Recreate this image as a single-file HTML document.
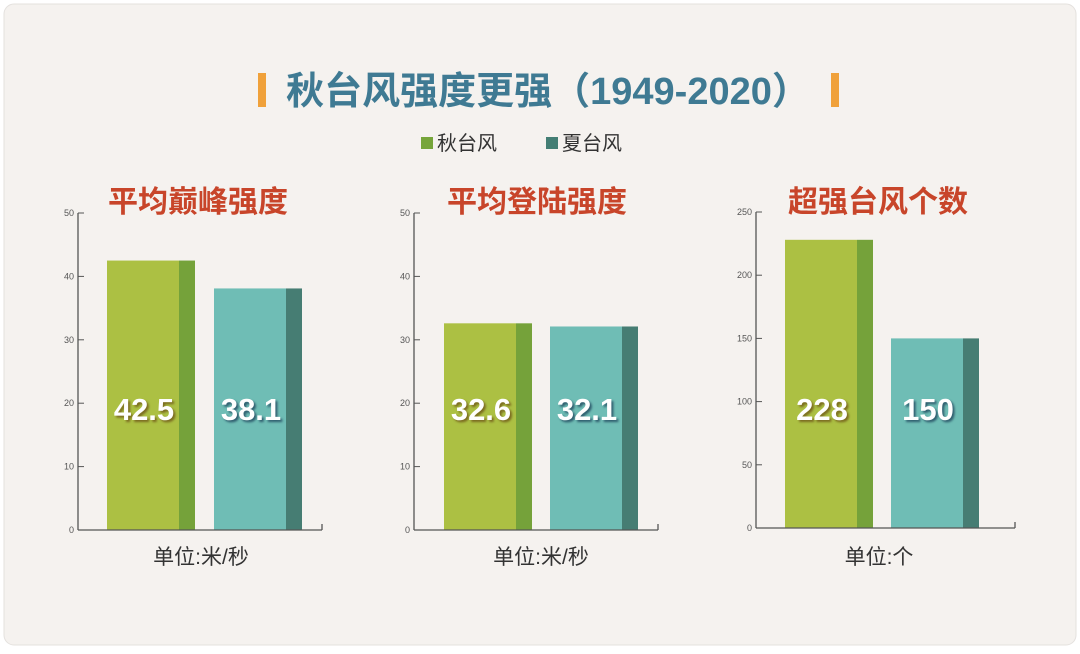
<!DOCTYPE html>
<html><head><meta charset="utf-8">
<style>
html,body{margin:0;padding:0;background:#fff;}
body{width:1080px;height:649px;overflow:hidden;font-family:"Liberation Sans","Noto Sans CJK SC",sans-serif;}
svg text{font-family:"Liberation Sans","Noto Sans CJK SC",sans-serif;}
</style></head>
<body>
<svg id="chart" width="1080" height="649" viewBox="0 0 1080 649">
<rect x="4" y="4" width="1072" height="641" rx="10" fill="#f5f2ef" stroke="#e4e1de"/>
<rect x="258" y="73" width="8" height="34" fill="#f0a13a"/>
<rect x="831" y="73" width="8" height="34" fill="#f0a13a"/>
<text x="548" y="104" text-anchor="middle" font-size="38" font-weight="bold" fill="#3f7a93">秋台风强度更强（1949-2020）</text>
<g>
<rect x="421" y="137" width="12" height="12" fill="#76a53a"/>
<text x="437" y="150" font-size="20" fill="#333">秋台风</text>
<rect x="546" y="137" width="12" height="12" fill="#437e74"/>
<text x="562" y="150" font-size="20" fill="#333">夏台风</text>
</g>
<g id="panels"></g>
</svg>
<script>
const panelTitles = ["平均巅峰强度","平均登陆强度","超强台风个数"];
const panelUnits = ["单位:米/秒","单位:米/秒","单位:个"];
const autumnValues = [42.5, 32.6, 228];
const summerValues = [38.1, 32.1, 150];
const axisMax = [50, 50, 250];
const tickValues = [[0,10,20,30,40,50],[0,10,20,30,40,50],[0,50,100,150,200,250]];

const NS = "http://www.w3.org/2000/svg";
const root = document.getElementById("panels");
function mk(tag, attrs, parent){const e=document.createElementNS(NS,tag);for(const k in attrs)e.setAttribute(k,attrs[k]);parent.appendChild(e);return e;}
const layout = [
  {ax:78, y0:530, ytop:213, xend:322, b1:107, b2:214, cx:198, ux:201},
  {ax:414, y0:530, ytop:213, xend:658, b1:444, b2:550, cx:537, ux:541},
  {ax:756, y0:528, ytop:212, xend:1015, b1:785, b2:891, cx:878, ux:879}
];
for (let i=0;i<3;i++){
  const L = layout[i];
  const g = mk("g",{},root);
  
  
  const yS = v => L.y0 - (v/axisMax[i])*(L.y0-L.ytop);
  const t = mk("text",{x:L.cx,y:212,"text-anchor":"middle","font-size":"30","font-weight":"bold",fill:"#c8452a"},g);
  t.textContent = panelTitles[i];
  
  
  const drawBar = (x,v,front,side,shadow,nm)=>{
    const y = yS(v);
    const r1 = mk("rect",{x:x,y:y,width:72,height:L.y0-y,fill:front},g);
    
    
    const r2 = mk("rect",{x:x+72,y:y,width:16,height:L.y0-y,fill:side},g);
    
    
    const lbl = mk("text",{x:x+37,y:420,"text-anchor":"middle","font-size":"31","font-weight":"bold",fill:"#fff",style:"filter:drop-shadow(2px 2px 1px "+shadow+")"},g);
    lbl.textContent = String(v);
    
    
  };
  drawBar(L.b1, autumnValues[i], "#acc043", "#75a23a", "#7a6a20", "bar-autumn");
  drawBar(L.b2, summerValues[i], "#6fbdb5", "#467d73", "#2f5d6e", "bar-summer");
  const ya = mk("line",{x1:L.ax,y1:L.ytop,x2:L.ax,y2:L.y0,stroke:"#555","stroke-width":"1.3"},g);
  
  
  const xa = mk("line",{x1:L.ax,y1:L.y0,x2:L.xend,y2:L.y0,stroke:"#555","stroke-width":"1.3"},g);
  
  
  const xe = mk("line",{x1:L.xend,y1:L.y0-6,x2:L.xend,y2:L.y0,stroke:"#555","stroke-width":"1.3"},g);
  
  
  for (const tv of tickValues[i]){
    const y = yS(tv);
    const tk = mk("line",{x1:L.ax,y1:y,x2:L.ax+6,y2:y,stroke:"#555","stroke-width":"1"},g);
    
    
    const tl = mk("text",{x:L.ax-4,y:y+3,"text-anchor":"end","font-size":"9",fill:"#555","font-family":"Liberation Serif, serif"},g);
    tl.textContent = String(tv);
    
    
  }
  const u = mk("text",{x:L.ux,y:564,"text-anchor":"middle","font-size":"21",fill:"#333"},g);
  u.textContent = panelUnits[i];
  
  
}
</script>
</body></html>
